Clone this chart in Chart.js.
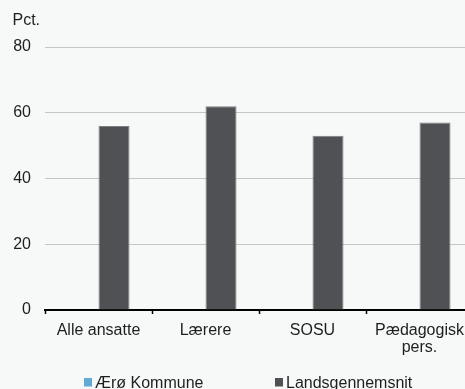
<!DOCTYPE html>
<html>
<head>
<meta charset="utf-8">
<script src="https://cdn.jsdelivr.net/npm/chart.js@4"></script>
<style>
html,body{margin:0;padding:0;background:#f7f8f8;overflow:hidden;}
#wrap{width:475px;height:389px;position:relative;}
</style>
</head>
<body>
<div id="wrap"><canvas id="c"></canvas></div>
<script>
const categories = ['Alle ansatte', 'Lærere', 'SOSU', ['Pædagogisk', 'pers.']];
const seriesNames = ['Ærø Kommune', 'Landsgennemsnit'];
const aeroValues = [null, null, null, null];
const landsValues = [56, 62, 53, 57];
const yTicks = [0, 20, 40, 60, 80];
const yUnit = 'Pct.';

const FONT = 'Liberation Sans, Arial, Helvetica, sans-serif';
const TEXT = '#1e1e1e';
const colors = ['#62a9d6', '#505155'];

const extras = {
  id: 'extras',
  afterDraw(chart) {
    const ctx = chart.ctx;
    ctx.save();
    ctx.font = '16px ' + FONT;
    ctx.fillStyle = TEXT;
    ctx.textBaseline = 'alphabetic';
    ctx.textAlign = 'left';
    ctx.fillText(yUnit, 12.5, 25);
    // legend
    const xs = [84, 275];
    chart.data.datasets.forEach((ds, i) => {
      ctx.fillStyle = ds.backgroundColor;
      ctx.fillRect(xs[i], 378, 8, 8.5);
      ctx.fillStyle = TEXT;
      ctx.fillText(ds.label, xs[i] + 11, 388);
    });
    ctx.restore();
  }
};

new Chart(document.getElementById('c'), {
  type: 'bar',
  data: {
    labels: categories,
    datasets: [
      { label: seriesNames[0], data: aeroValues, backgroundColor: colors[0], borderColor: colors[0], borderWidth: 0 },
      { label: seriesNames[1], data: landsValues, backgroundColor: colors[1], borderColor: '#7d7e81', borderWidth: 1 }
    ]
  },
  options: {
    responsive: true,
    maintainAspectRatio: false,
    animation: false,
    devicePixelRatio: 1,
    layout: { padding: { left: 0, right: 2, top: 47, bottom: 0 } },
    datasets: { bar: { categoryPercentage: 0.58, barPercentage: 1.0 } },
    plugins: { legend: { display: false }, tooltip: { enabled: false }, title: { display: false } },
    scales: {
      x: {
        afterFit(s) { s.height = 79; },
        grid: { display: true, drawOnChartArea: false, drawTicks: true, tickLength: 4, tickWidth: 1.5, tickColor: '#000', offset: true },
        border: { display: true, color: '#000', width: 2 },
        ticks: { color: TEXT, font: { family: FONT, size: 16, lineHeight: 1.05 }, padding: 8, maxRotation: 0, autoSkip: false }
      },
      y: {
        min: 0, max: 80,
        afterFit(s) { s.width = 45; },
        afterBuildTicks(s) { s.ticks = yTicks.map(v => ({ value: v })); },
        grid: { color: '#c6c6c6', lineWidth: 1, drawTicks: false },
        border: { display: false },
        ticks: { color: TEXT, font: { family: FONT, size: 16 }, padding: 14 }
      }
    }
  },
  plugins: [extras]
});
</script>
</body>
</html>
